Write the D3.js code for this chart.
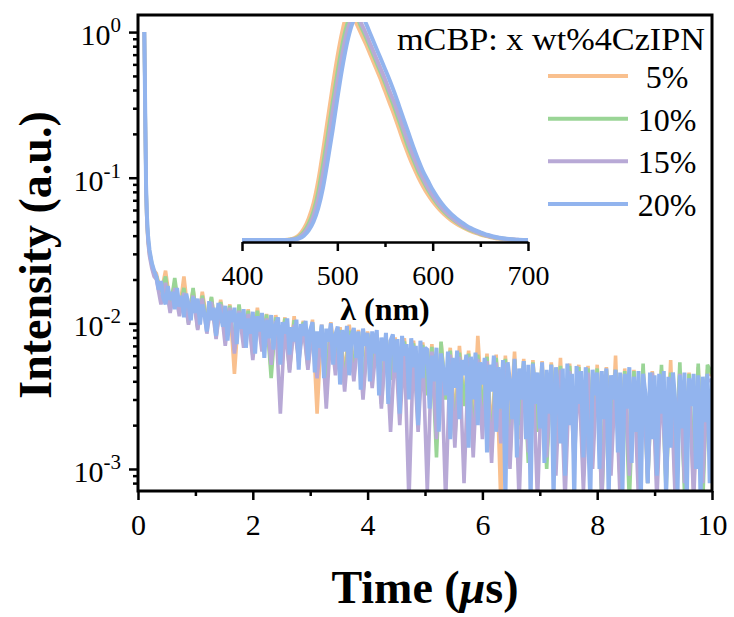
<!DOCTYPE html>
<html><head><meta charset="utf-8">
<script src="https://cdn.jsdelivr.net/npm/d3@7"></script>
<style>body{margin:0;background:#fff}text{font-family:"Liberation Serif","Times New Roman",serif;fill:#000}</style>
</head><body>
<svg id="chart" width="734" height="617"></svg>
<script>
// ---------- data ----------
const seriesNames = ["5%", "10%", "15%", "20%"];
const seriesColors = ["#F9C08E", "#9AD596", "#B8A9D6", "#92B4EE"];
const legendTitle = "mCBP: x wt%4CzIPN";

// decay: head samples (explicit times) + tail samples (coarse: every 0.08 µs, fine: every 0.04 µs, from 0.32 to 10.00)
const decayHeadTimes = [0.11, 0.125, 0.14, 0.155, 0.175, 0.2, 0.24, 0.28];
const tailTimesCoarse = d3.range(122).map(k => +(0.32 + 0.08 * k).toFixed(2));
const tailTimesFine = d3.range(243).map(k => +(0.32 + 0.04 * k).toFixed(2));

const decay5 = [1.0, 0.28, 0.085, 0.05, 0.037, 0.030, 0.025, 0.023,
  .022,.016,.023,.0135,.019,.012,.021,.011,.017,.0095,
  .0165,.0105,.015,.0085,.0145,.0092,.0135,.0045,.013,.0078,
  .0125,.0065,.0128,.0072,.0116,.0048,.0114,.0068,.0110,.0052,
  .0112,.0062,.0104,.0056,.0106,.0024,.0098,.0046,.0102,.0055,
  .0094,.0042,.0098,.0050,.0090,.0037,.0088,.0046,.0084,.0032,
  .0082,.0042,.0080,.0030,.0079,.0038,.0076,.0026,.0074,.0034,
  .0072,.0022,.0074,.0031,.0068,.0020,.0070,.0028,.0065,.0018,
  .0082,.0026,.0062,.0016,.0061,.0006,.0060,.0020,.0064,.0016,
  .0057,.0014,.0056,.0019,.0055,.0012,.0054,.0017,.0058,.0011,
  .0053,.0015,.0052,.0010,.0051,.0014,.0052,.0009,.0050,.0013,
  .0060,.0008,.0049,.0012,.0048,.0009,.0049,.0011,.0047,.0008,
  .0048,.0010,.0056,.0007,.0047,.0009,.0046,.0007,.0050,.0009,
  .0046,.0044];
const decay10 = [1.0, 0.29, 0.088, 0.052, 0.038, 0.031, 0.026, 0.022,
  .021,.0165,.021,.0125,.0205,.012,.0175,.0100,.0175,.0092,
  .0155,.0100,.0152,.0082,.0140,.0090,.0132,.0066,.0135,.0076,
  .0122,.0060,.0122,.0070,.0115,.0042,.0110,.0060,.0108,.0048,
  .0105,.0058,.0102,.0050,.0100,.0055,.0096,.0040,.0094,.0052,
  .0090,.0038,.0089,.0048,.0087,.0033,.0084,.0044,.0081,.0028,
  .0080,.0041,.0077,.0026,.0075,.0036,.0073,.0022,.0071,.0032,
  .0069,.0012,.0075,.0030,.0065,.0016,.0063,.0027,.0062,.0015,
  .0061,.0024,.0059,.0013,.0058,.0022,.0057,.0012,.0056,.0020,
  .0055,.0011,.0054,.0018,.0053,.0010,.0052,.0016,.0051,.0009,
  .0051,.0014,.0050,.0009,.0049,.0013,.0049,.0006,.0048,.0012,
  .0048,.0008,.0047,.0006,.0047,.0011,.0053,.0008,.0046,.0010,
  .0052,.0007,.0046,.0010,.0054,.0007,.0045,.0009,.0053,.0006,
  .0052,.0045];
const decay15 = [1.0, 0.29, 0.086, 0.05, 0.036, 0.029, 0.024, 0.021,
  .020,.0135,.019,.0118,.0175,.0112,.0162,.0098,.0155,.0090,
  .0148,.0085,.0140,.0078,.0135,.0070,.0128,.0062,.0122,.0068,
  .0116,.0056,.0112,.0064,.0108,.0052,.0104,.0024,.0100,.0046,
  .0098,.0054,.0095,.0048,.0092,.0042,.0090,.0026,.0088,.0044,
  .0086,.0034,.0083,.0040,.0081,.0030,.0078,.0036,.0076,.0026,
  .0074,.0018,.0072,.0020,.0070,.0006,.0068,.0018,.0066,.0007,
  .0064,.0016,.0062,.0006,.0061,.0014,.0059,.0008,.0058,.0012,
  .0057,.0016,.0055,.0011,.0054,.0015,.0053,.0010,.0052,.0006,
  .0051,.0013,.0050,.0006,.0049,.0012,.0048,.0009,.0048,.0006,
  .0047,.0011,.0046,.0007,.0046,.0010,.0045,.0006,.0045,.0009,
  .0044,.0006,.0044,.0009,.0043,.0006,.0043,.0008,.0046,.0006,
  .0042,.0008,.0042,.0006,.0045,.0008,.0041,.0006,.0041,.0008,
  .0041,.0040];
const decay20 = [1.0, 0.30, 0.09, 0.055, 0.04, 0.032, 0.026, 0.023,
  .021,.017,.0195,.015,.0135,.018,.0145,.0165,.0125,.0175,.013,.0155,.011,.016,.0135,.0105,.0152,.0118,
  .0148,.0098,.0135,.0115,.0088,.0142,.0105,.0128,.0082,.0138,.0112,.0095,.0132,.0076,.0122,.0102,.0128,.0072,.0118,.0092,.0125,.0068,.0108,.0085,.0120,
  .0062,.0112,.0088,.0118,.0058,.0105,.0079,.0114,.0066,.0098,.0110,.0052,.0102,.0085,.0108,.0061,.0094,.0075,.0106,.0048,.0099,.0082,.0104,.0056,.0090,
  .0102,.0046,.0088,.0068,.0098,.0042,.0092,.0075,.0100,.0052,.0084,.0095,.0038,.0090,.0064,.0096,.0044,.0082,.0093,.0058,.0088,.0035,.0092,.0070,.0086,
  .0040,.0088,.0062,.0090,.0032,.0080,.0055,.0086,.0028,.0076,.0084,.0046,.0078,.0024,.0082,.0060,.0072,.0030,.0079,.0050,.0070,.0020,.0076,.0042,.0068,
  .0066,.0026,.0060,.0040,.0068,.0018,.0062,.0048,.0032,.0064,.0016,.0058,.0036,.0065,.0022,.0056,.0044,.0061,.0014,.0059,.0030,.0063,.0020,.0054,.0038,
  .0058,.0013,.0052,.0034,.0060,.0018,.0050,.0026,.0056,.0006,.0054,.0040,.0022,.0057,.0012,.0049,.0030,.0055,.0016,.0052,.0006,.0053,.0028,.0046,.0019,
  .0054,.0011,.0048,.0024,.0052,.0006,.0050,.0034,.0015,.0049,.0009,.0053,.0020,.0045,.0006,.0051,.0028,.0047,.0012,.0050,.0018,.0006,.0048,.0032,.0046,
  .0010,.0047,.0022,.0049,.0006,.0044,.0030,.0048,.0013,.0046,.0007,.0045,.0026,.0050,.0011,.0043,.0018,.0047,.0006,.0045,.0033,.0008,.0046,.0016,.0044,
  .0009,.0045,.0024,.0047,.0006,.0043,.0014,.0046,.0029,.0007,.0044,.0019,.0046,.0006,.0042,.0027,.0045,.0010,.0044,.0006,.0043,.0021,.0045,.0008,.0042];

// inset PL spectra, 400–700 nm every 5 nm
const wavelengths = d3.range(400, 701, 5);
const pl5 = [0,0,0,0,0,0,0,0,0,0,
  .002,.008,.022,.05,.095,.16,.26,.39,.53,.67,
  .80,.91,.985,.99,.95,.905,.86,.81,.76,.71,
  .655,.60,.545,.485,.425,.37,.32,.275,.235,.20,
  .17,.144,.121,.102,.085,.071,.059,.048,.039,.031,
  .024,.018,.013,.009,.006,.004,.0022,.001,.0003,0,
  0];
const pl10 = [0,0,0,0,0,0,0,0,0,0,
  .001,.005,.015,.036,.072,.125,.21,.33,.46,.60,
  .73,.85,.94,.99,.98,.935,.89,.84,.79,.74,
  .69,.635,.58,.52,.46,.40,.35,.30,.26,.22,
  .187,.158,.133,.112,.094,.078,.065,.053,.043,.035,
  .027,.021,.015,.011,.0075,.005,.003,.0015,.0005,0,
  0];
const pl15 = [0,0,0,0,0,0,0,0,0,0,
  .0005,.003,.011,.028,.058,.105,.18,.29,.42,.56,
  .69,.81,.91,.97,.99,.95,.905,.855,.805,.755,
  .705,.65,.60,.54,.48,.42,.365,.315,.27,.23,
  .195,.165,.14,.118,.099,.082,.068,.056,.046,.037,
  .029,.022,.016,.012,.008,.0055,.0033,.0017,.0006,0,
  0];
const pl20 = [0,0,0,0,0,0,0,0,0,0,
  0,.002,.007,.019,.042,.08,.14,.23,.35,.48,
  .62,.75,.86,.94,.985,.99,.95,.90,.85,.80,
  .75,.70,.645,.585,.525,.465,.405,.35,.30,.26,
  .22,.187,.158,.133,.112,.094,.078,.064,.052,.042,
  .034,.026,.02,.014,.01,.007,.0045,.0025,.0012,.0004,
  0];

const xTickValues = [0, 2, 4, 6, 8, 10];
const xMinorTicks = [1, 3, 5, 7, 9];
const yTickValues = [1, 0.1, 0.01, 0.001];
const yTickExponents = ["0", "-1", "-2", "-3"];
const insetTickValues = [400, 500, 600, 700];
const insetMinorTicks = [450, 550, 650];

// ---------- drawing ----------
const svg = d3.select("#chart");
const decays = [decay5, decay10, decay15, decay20];
const decayTimeSets = [
  decayHeadTimes.concat(tailTimesCoarse),
  decayHeadTimes.concat(tailTimesCoarse),
  decayHeadTimes.concat(tailTimesCoarse),
  decayHeadTimes.concat(tailTimesFine)
];
const spectra = [pl5, pl10, pl15, pl20];

const x = d3.scaleLinear().domain([0, 10]).range([138, 712]);
const y = d3.scaleLog().domain([7.06e-4, 1.31]).range([491, 15]);

const defs = svg.append("defs");
defs.append("clipPath").attr("id", "mainClip").append("rect")
  .attr("x", x(0)).attr("y", y(1.31)).attr("width", x(10) - x(0)).attr("height", y(7.06e-4) - y(1.31));

const line = d3.line().x(d => x(d[0])).y(d => y(d[1]));
const gDecay = svg.append("g").attr("clip-path", "url(#mainClip)");
decays.forEach((vals, i) => {
  const times = decayTimeSets[i];
  gDecay.append("path")
    .datum(times.map((t, j) => [t, vals[j]]))
    .attr("d", line)
    .attr("fill", "none")
    .attr("stroke", seriesColors[i])
    .attr("stroke-width", i === 3 ? 4 : 3.6)
    .attr("stroke-linejoin", "miter")
    .attr("stroke-miterlimit", 2);
});

// inset
const xi = d3.scaleLinear().domain([400, 700]).range([242, 528]);
const yi = d3.scaleLinear().domain([0, 1]).range([240, 12]);
defs.append("clipPath").attr("id", "insetClip").append("rect")
  .attr("x", 236).attr("y", 22).attr("width", 300).attr("height", 222);
const iline = d3.line().x(d => xi(d[0])).y(d => yi(d[1])).curve(d3.curveMonotoneX);
const gInset = svg.append("g").attr("clip-path", "url(#insetClip)");
spectra.forEach((vals, i) => {
  gInset.append("path")
    .datum(wavelengths.map((w, j) => [w, vals[j]]))
    .attr("d", iline)
    .attr("fill", "none")
    .attr("stroke", seriesColors[i])
    .attr("stroke-width", 4);
});

const gIx = svg.append("g").attr("transform", "translate(0,242)")
  .call(d3.axisBottom(xi).tickValues(insetTickValues).tickSize(9).tickSizeOuter(0).tickPadding(14));
gIx.select(".domain").attr("stroke-width", 2.5);
gIx.selectAll(".tick line").attr("stroke-width", 2.5);
gIx.selectAll(".tick text").style("font-size", "28px").attr("font-family", null);
const gIxm = svg.append("g").attr("transform", "translate(0,242)")
  .call(d3.axisBottom(xi).tickValues(insetMinorTicks).tickSize(5).tickFormat(""));
gIxm.select(".domain").remove();
gIxm.selectAll(".tick line").attr("stroke-width", 2.5);

svg.append("text").attr("x", 385).attr("y", 320).attr("text-anchor", "middle")
  .style("font-size", "32px").style("font-weight", "bold").text("λ (nm)");

// main axes
const gx = svg.append("g").attr("transform", `translate(0,${y(7.06e-4)})`)
  .call(d3.axisBottom(x).tickValues(xTickValues).tickSize(9).tickSizeOuter(0).tickPadding(14));
gx.select(".domain").remove();
gx.selectAll(".tick line").attr("stroke-width", 2.5);
gx.selectAll(".tick text").style("font-size", "30px").attr("font-family", null);
const gxm = svg.append("g").attr("transform", `translate(0,${y(7.06e-4)})`)
  .call(d3.axisBottom(x).tickValues(xMinorTicks).tickSize(5).tickFormat(""));
gxm.select(".domain").remove();
gxm.selectAll(".tick line").attr("stroke-width", 2.5);

const gy = svg.append("g").attr("transform", `translate(${x(0)},0)`)
  .call(d3.axisLeft(y).tickValues(yTickValues).tickSize(9).tickSizeOuter(0).tickFormat(""));
gy.select(".domain").remove();
gy.selectAll(".tick line").attr("stroke-width", 2.5);
const minorY = y.ticks().filter(v => Math.abs(Math.log10(v) - Math.round(Math.log10(v))) > 1e-6);
const gym = svg.append("g").attr("transform", `translate(${x(0)},0)`)
  .call(d3.axisLeft(y).tickValues(minorY).tickSize(5).tickFormat(""));
gym.select(".domain").remove();
gym.selectAll(".tick line").attr("stroke-width", 2.5);

const yl = svg.append("g").selectAll("text").data(yTickValues).join("text")
  .attr("x", 121).attr("y", d => y(d) + 13).attr("text-anchor", "end")
  .style("font-size", "30px");
yl.append("tspan").text("10");
yl.append("tspan").attr("dy", -13).style("font-size", "21px").text((d, i) => yTickExponents[i]);

svg.append("rect").attr("x", x(0)).attr("y", y(1.31)).attr("width", x(10) - x(0))
  .attr("height", y(7.06e-4) - y(1.31)).attr("fill", "none").attr("stroke", "#000").attr("stroke-width", 3);

// axis titles
const xt = svg.append("text").attr("x", 425).attr("y", 603).attr("text-anchor", "middle")
  .style("font-size", "46px").style("font-weight", "bold");
xt.append("tspan").text("Time (");
xt.append("tspan").style("font-style", "italic").text("μ");
xt.append("tspan").text("s)");
svg.append("text").attr("transform", "translate(51,255) rotate(-90)").attr("text-anchor", "middle")
  .style("font-size", "46px").style("font-weight", "bold").text("Intensity (a.u.)");

// legend
svg.append("text").attr("x", 397).attr("y", 50)
  .attr("textLength", 308).attr("lengthAdjust", "spacingAndGlyphs")
  .style("font-size", "32px").text(legendTitle);
const ly = d3.scalePoint().domain(seriesNames).range([76, 204]);
const lg = svg.append("g").selectAll("g").data(seriesNames).join("g")
  .attr("transform", d => `translate(0,${ly(d)})`);
lg.append("line").attr("x1", 548).attr("x2", 628).attr("y1", 0).attr("y2", 0)
  .attr("stroke", (d, i) => seriesColors[i]).attr("stroke-width", 4);
lg.append("text").attr("x", 667).attr("y", 12).attr("text-anchor", "middle")
  .style("font-size", "32px").text(d => d);
</script>
</body></html>
